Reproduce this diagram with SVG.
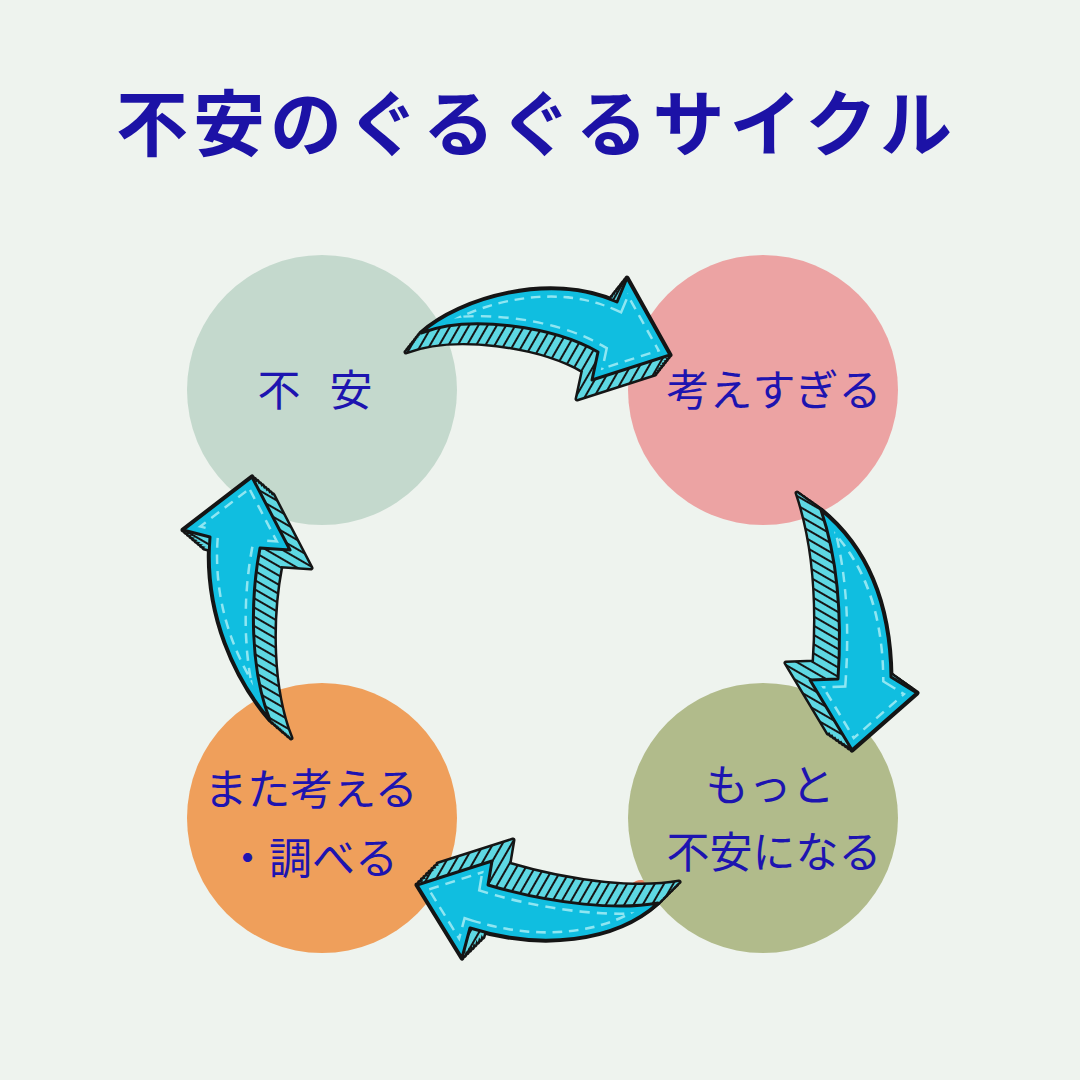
<svg xmlns="http://www.w3.org/2000/svg" xmlns:xlink="http://www.w3.org/1999/xlink" width="1080" height="1080" viewBox="0 0 1080 1080">
<style>
.title{font-family:"Noto Sans CJK JP","Noto Sans",sans-serif;font-weight:700;font-size:72px;fill:#1c12a6;text-anchor:middle}
.lbl{font-family:"Noto Sans CJK JP","Noto Sans",sans-serif;font-weight:400;font-size:43px;fill:#1d14b0;text-anchor:middle}
.edge{fill:none;stroke:#151515;stroke-width:5;stroke-linejoin:round}
.face{fill:#10bee0}
.dash{fill:none;stroke:#8fe6f2;stroke-width:18;stroke-dasharray:10 7}
.cover{fill:none;stroke:#10bee0;stroke-width:13}
.border{fill:none;stroke:#151515;stroke-width:3;stroke-linejoin:round}
</style>
<defs>
<pattern id="hA" patternUnits="userSpaceOnUse" width="8" height="8" patternTransform="rotate(30)"><rect width="8" height="8" fill="#5ed8e3"/><line x1="1" y1="0" x2="1" y2="8" stroke="#151515" stroke-width="2"/></pattern>
<pattern id="hB" patternUnits="userSpaceOnUse" width="8" height="8" patternTransform="rotate(-60)"><rect width="8" height="8" fill="#5ed8e3"/><line x1="1" y1="0" x2="1" y2="8" stroke="#151515" stroke-width="2"/></pattern>

<path id="a1" d="M421,333 C460,298 550,272 617,302 L627,278 L670,355 L592,380 L598,352 C555,327 470,314 421,333 Z"/>
<path id="a2" d="M821,510 C864,545 890,600 891,677 L917,693 L852,750 L810,680 L838,679 C842,620 838,560 821,510 Z"/>
<path id="a3" d="M658,903 C620,910 555,905 488,885 L492,861 L417,885 L462,958 L470,928 C540,950 615,942 658,903 Z"/>
<path id="a4" d="M270,720 C236,680 204,615 210,537 L183,530 L252,477 L290,550 L260,548 C250,600 250,670 270,720 Z"/>

<clipPath id="c1"><use xlink:href="#a1"/></clipPath>
<clipPath id="c2"><use xlink:href="#a2"/></clipPath>
<clipPath id="c3"><use xlink:href="#a3"/></clipPath>
<clipPath id="c4"><use xlink:href="#a4"/></clipPath>

<g id="s1">
<use xlink:href="#a1"/><use xlink:href="#a1" transform="translate(-1.9,2.4)"/><use xlink:href="#a1" transform="translate(-3.8,4.8)"/><use xlink:href="#a1" transform="translate(-5.6,7.1)"/><use xlink:href="#a1" transform="translate(-7.5,9.5)"/><use xlink:href="#a1" transform="translate(-9.4,11.9)"/><use xlink:href="#a1" transform="translate(-11.3,14.3)"/><use xlink:href="#a1" transform="translate(-13.1,16.6)"/><use xlink:href="#a1" transform="translate(-15,19)"/>
</g>
<g id="s2">
<use xlink:href="#a2"/><use xlink:href="#a2" transform="translate(-3,-2.1)"/><use xlink:href="#a2" transform="translate(-6,-4.3)"/><use xlink:href="#a2" transform="translate(-9,-6.4)"/><use xlink:href="#a2" transform="translate(-12,-8.5)"/><use xlink:href="#a2" transform="translate(-15,-10.6)"/><use xlink:href="#a2" transform="translate(-18,-12.8)"/><use xlink:href="#a2" transform="translate(-21,-14.9)"/><use xlink:href="#a2" transform="translate(-24,-17)"/>
</g>
<g id="s3">
<use xlink:href="#a3"/><use xlink:href="#a3" transform="translate(2.6,-2.6)"/><use xlink:href="#a3" transform="translate(5.3,-5.3)"/><use xlink:href="#a3" transform="translate(7.9,-7.9)"/><use xlink:href="#a3" transform="translate(10.5,-10.5)"/><use xlink:href="#a3" transform="translate(13.1,-13.1)"/><use xlink:href="#a3" transform="translate(15.8,-15.8)"/><use xlink:href="#a3" transform="translate(18.4,-18.4)"/><use xlink:href="#a3" transform="translate(21,-21)"/>
</g>
<g id="s4">
<use xlink:href="#a4"/><use xlink:href="#a4" transform="translate(2.6,2.3)"/><use xlink:href="#a4" transform="translate(5.3,4.5)"/><use xlink:href="#a4" transform="translate(7.9,6.8)"/><use xlink:href="#a4" transform="translate(10.5,9)"/><use xlink:href="#a4" transform="translate(13.1,11.3)"/><use xlink:href="#a4" transform="translate(15.8,13.5)"/><use xlink:href="#a4" transform="translate(18.4,15.8)"/><use xlink:href="#a4" transform="translate(21,18)"/>
</g>

<mask id="m1" maskUnits="userSpaceOnUse" x="0" y="0" width="1080" height="1080"><use xlink:href="#s1" fill="#fff"/></mask>
<mask id="m2" maskUnits="userSpaceOnUse" x="0" y="0" width="1080" height="1080"><use xlink:href="#s2" fill="#fff"/></mask>
<mask id="m3" maskUnits="userSpaceOnUse" x="0" y="0" width="1080" height="1080"><use xlink:href="#s3" fill="#fff"/></mask>
<mask id="m4" maskUnits="userSpaceOnUse" x="0" y="0" width="1080" height="1080"><use xlink:href="#s4" fill="#fff"/></mask>
</defs>

<rect width="1080" height="1080" fill="#eef3ee"/>

<text class="title" x="534" y="150" textLength="836" lengthAdjust="spacing">不安のぐるぐるサイクル</text>

<circle cx="641" cy="893" r="13" fill="#e57c5b"/>

<g id="node-anxiety">
<circle cx="322" cy="390" r="135" fill="#c4d9cd"/>
</g>
<g id="node-overthink">
<circle cx="763" cy="390" r="135" fill="#eca3a3"/>
</g>
<g id="node-more-anxiety">
<circle cx="763" cy="818" r="135" fill="#b1bb8b"/>
</g>
<g id="node-research">
<circle cx="322" cy="818" r="135" fill="#ef9f5b"/>
</g>

<g id="connectors">
<g id="arrow-top">
<use xlink:href="#s1" class="edge"/>
<rect width="1080" height="1080" fill="url(#hA)" mask="url(#m1)"/>
<use xlink:href="#a1" class="face"/>
<g clip-path="url(#c1)"><use xlink:href="#a1" class="dash"/><use xlink:href="#a1" class="cover"/></g>
<use xlink:href="#a1" class="border"/>
</g>
<g id="arrow-right">
<use xlink:href="#s2" class="edge"/>
<rect width="1080" height="1080" fill="url(#hB)" mask="url(#m2)"/>
<use xlink:href="#a2" class="face"/>
<g clip-path="url(#c2)"><use xlink:href="#a2" class="dash"/><use xlink:href="#a2" class="cover"/></g>
<use xlink:href="#a2" class="border"/>
</g>
<g id="arrow-bottom">
<use xlink:href="#s3" class="edge"/>
<rect width="1080" height="1080" fill="url(#hA)" mask="url(#m3)"/>
<use xlink:href="#a3" class="face"/>
<g clip-path="url(#c3)"><use xlink:href="#a3" class="dash"/><use xlink:href="#a3" class="cover"/></g>
<use xlink:href="#a3" class="border"/>
</g>
<g id="arrow-left">
<use xlink:href="#s4" class="edge"/>
<rect width="1080" height="1080" fill="url(#hB)" mask="url(#m4)"/>
<use xlink:href="#a4" class="face"/>
<g clip-path="url(#c4)"><use xlink:href="#a4" class="dash"/><use xlink:href="#a4" class="cover"/></g>
<use xlink:href="#a4" class="border"/>
</g>
</g>

<g id="labels">
<text class="lbl" x="279" y="406">不</text>
<text class="lbl" x="351" y="406">安</text>
<text class="lbl" x="774" y="406">考えすぎる</text>
<text class="lbl" x="770" y="801">もっと</text>
<text class="lbl" x="774" y="868">不安になる</text>
<text class="lbl" x="311" y="805">また考える</text>
<text class="lbl" x="312" y="874">・調べる</text>
</g>
</svg>
